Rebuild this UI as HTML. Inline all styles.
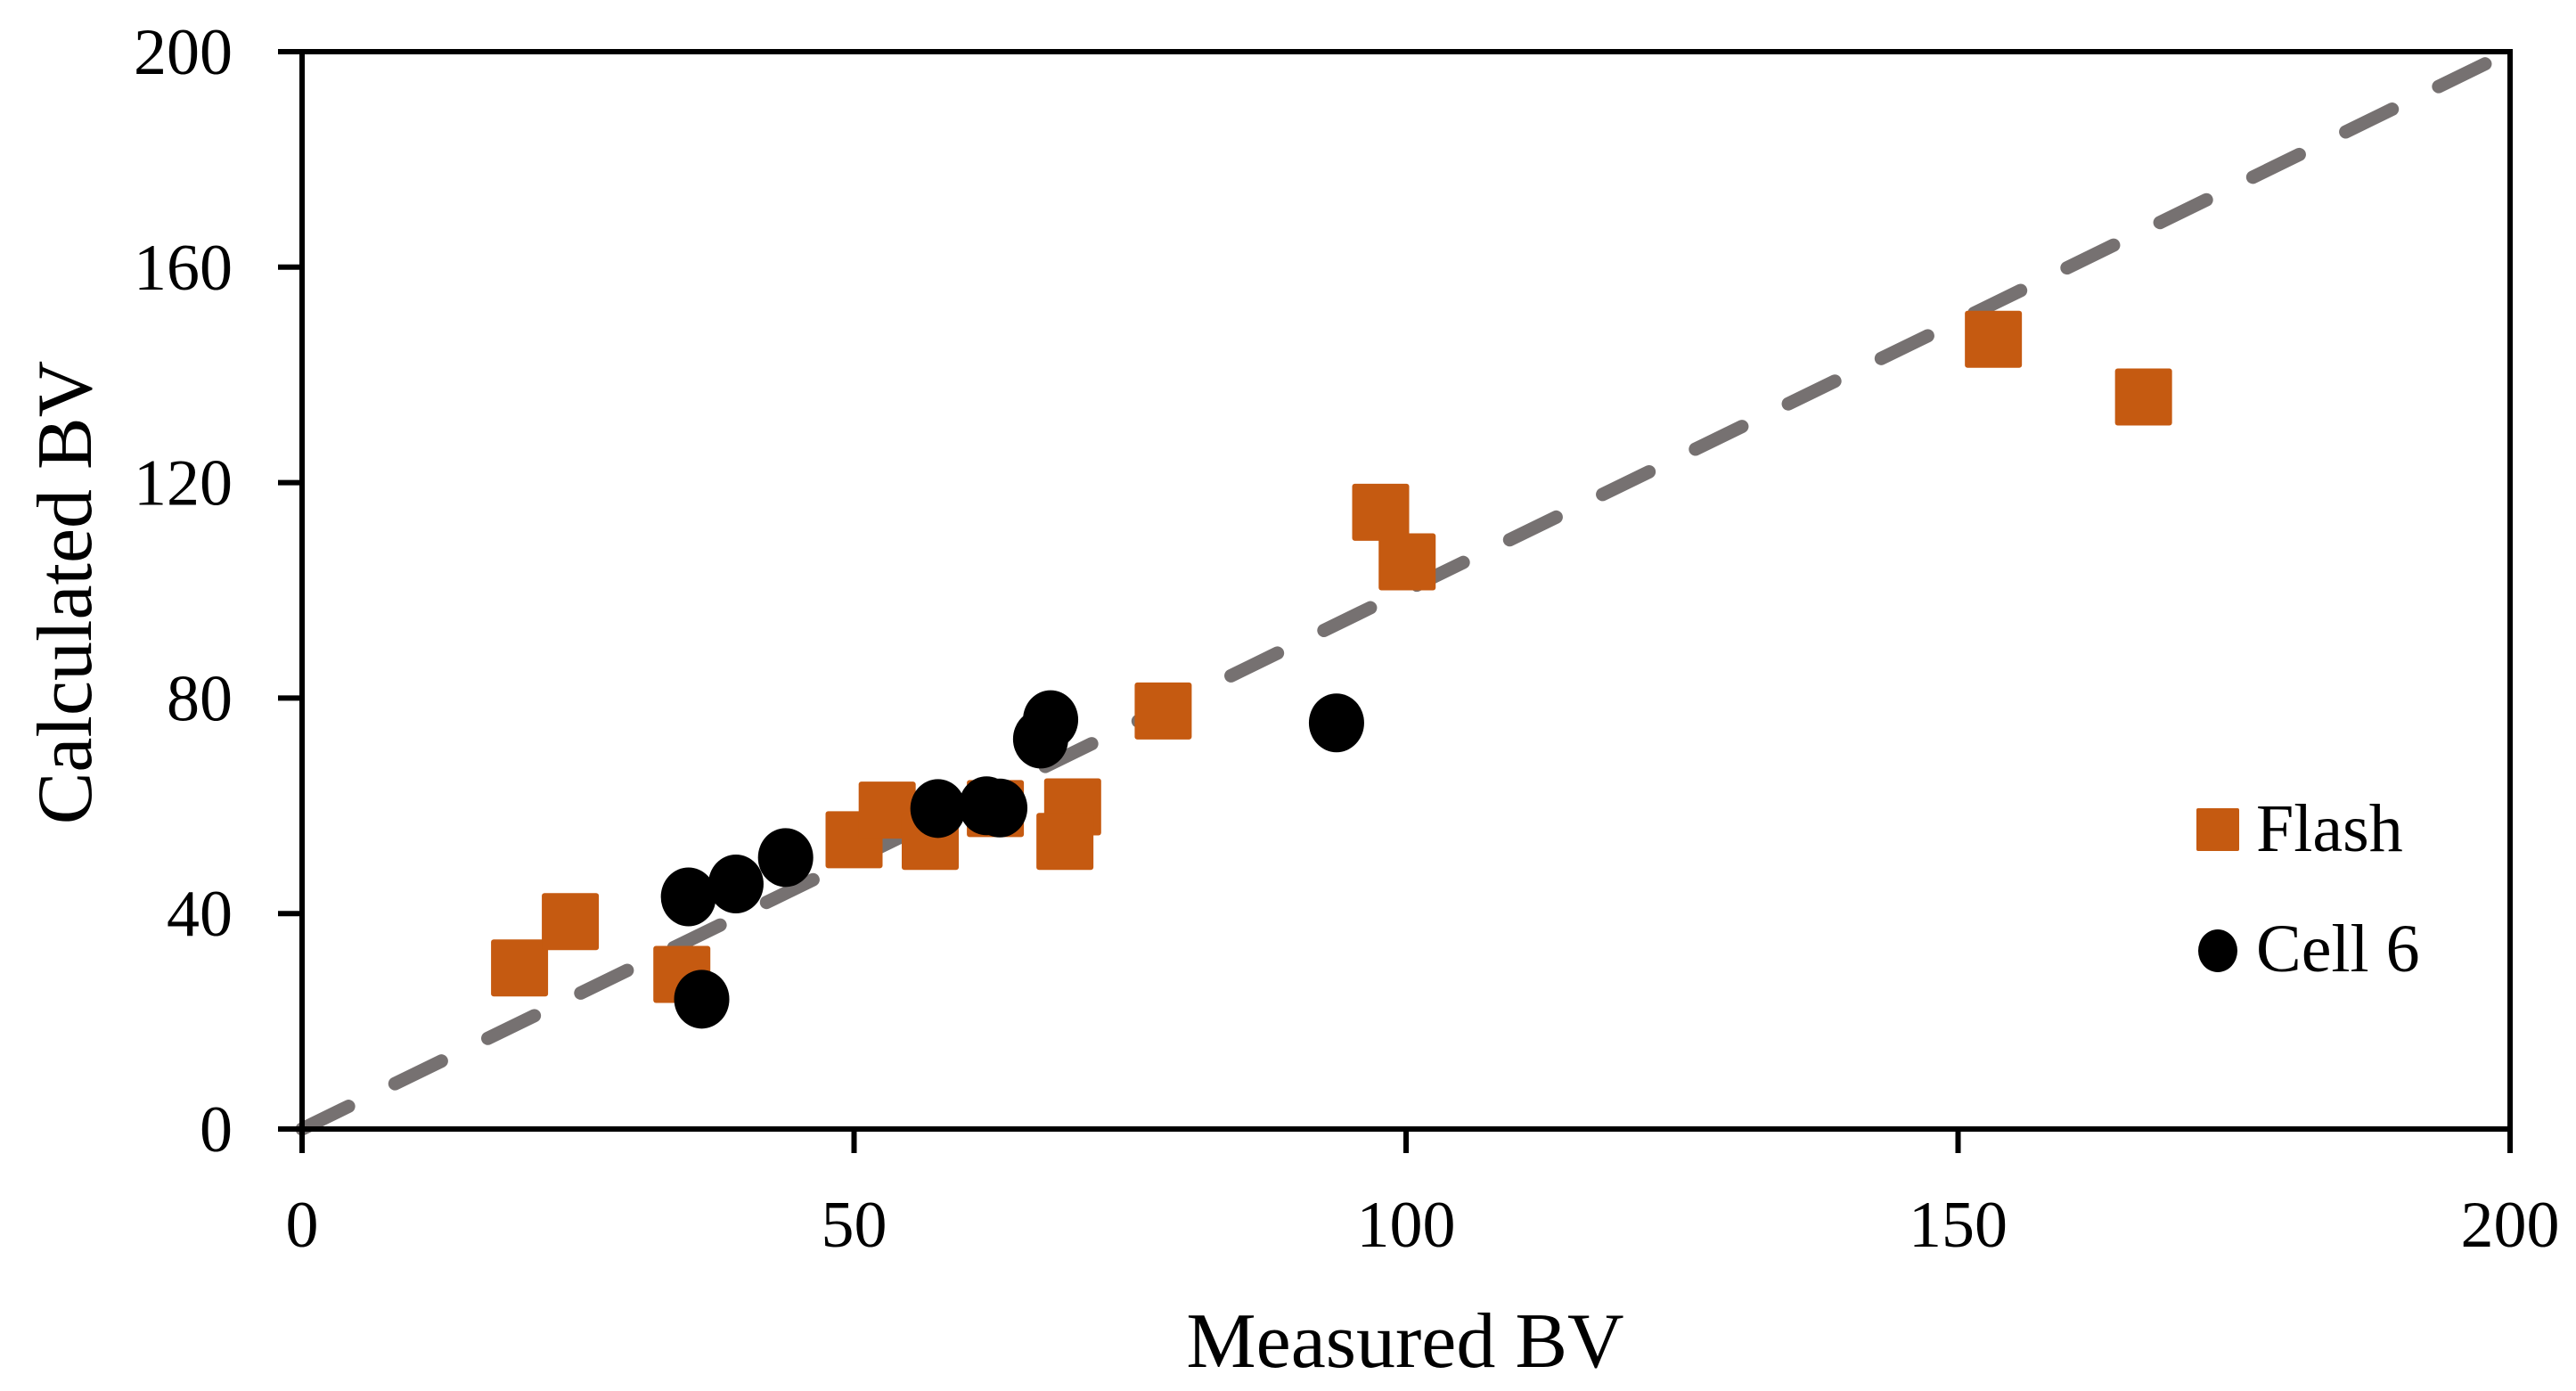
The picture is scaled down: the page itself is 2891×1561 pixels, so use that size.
<!DOCTYPE html>
<html><head><meta charset="utf-8"><style>
html,body{margin:0;padding:0;background:#fff;}
svg{display:block;}
text{font-family:"Liberation Serif",serif;fill:#000;}
</style></head><body>
<svg id="chart" width="2891" height="1561" viewBox="0 0 2891 1561" xmlns="http://www.w3.org/2000/svg">
<g id="g-line"></g>
<g id="g-flash"></g>
<g id="g-cell"></g>
<g id="g-axes"></g>
<text x="1577" y="1534" font-size="88" text-anchor="middle">Measured BV</text>
<text transform="translate(102,665) rotate(-90)" font-size="88" text-anchor="middle">Calculated BV</text>
<g>
<rect x="2465" y="907" width="48" height="48" fill="#C55A11" rx="2"/>
<text x="2532" y="955" font-size="76">Flash</text>
<ellipse cx="2489" cy="1067" rx="22" ry="24" fill="#000"/>
<text x="2532" y="1090" font-size="76">Cell 6</text>
</g>
</svg>
<script>
const xTicks = [0, 50, 100, 150, 200];
const yTicks = [0, 40, 80, 120, 160, 200];
const flashX = [19.7, 24.3, 34.4, 50.0, 53.0, 56.9, 62.8, 69.8, 69.1, 78.0, 97.7, 100.1, 153.2, 166.8];
const flashY = [29.9, 38.5, 28.7, 53.7, 59.2, 53.4, 59.5, 59.8, 53.4, 77.6, 114.5, 105.3, 146.6, 135.9];
const cellX = [35.0, 36.2, 39.3, 43.8, 57.6, 62.0, 63.2, 66.9, 67.8, 93.7];
const cellY = [43.1, 24.1, 45.5, 50.4, 59.5, 60.0, 59.6, 72.4, 76.0, 75.4];
const lineX = [0, 200];
const lineY = [0, 200];

const L = 339, R = 2817, T = 58, B = 1267;
const xMax = 200, yMax = 200;
function sx(v){ return L + (R - L) * v / xMax; }
function sy(v){ return B - (B - T) * v / yMax; }
const NS = "http://www.w3.org/2000/svg";
function mk(tag, attrs, parent){
  const e = document.createElementNS(NS, tag);
  for (const k in attrs) e.setAttribute(k, attrs[k]);
  parent.appendChild(e);
  return e;
}

const gLine = document.getElementById('g-line');
const ln = mk('line', {x1: sx(lineX[0]), y1: sy(lineY[0]), x2: sx(lineX[1]), y2: sy(lineY[1]), stroke: '#767171', 'stroke-width': 15, 'stroke-dasharray': '58 58', 'stroke-linecap': 'round'}, gLine);



const gF = document.getElementById('g-flash');
const S = 64;
for (let i = 0; i < flashX.length; i++){
  const r = mk('rect', {x: sx(flashX[i]) - S/2, y: sy(flashY[i]) - S/2, width: S, height: S, rx: 3, fill: '#C55A11'}, gF);
  
  
}
const gC = document.getElementById('g-cell');
for (let i = 0; i < cellX.length; i++){
  const c = mk('ellipse', {cx: sx(cellX[i]), cy: sy(cellY[i]), rx: 31, ry: 33, fill: '#000'}, gC);
  
  
}

const gA = document.getElementById('g-axes');
const frame = mk('rect', {x: L, y: T, width: R - L, height: B - T, fill: 'none', stroke: '#000', 'stroke-width': 6}, gA);


for (const v of xTicks){
  const t = mk('line', {x1: sx(v), y1: B, x2: sx(v), y2: B + 27, stroke: '#000', 'stroke-width': 6}, gA);
  
  
  const lb = mk('text', {x: sx(v), y: 1399, 'font-size': 74, 'text-anchor': 'middle'}, gA);
  lb.textContent = v;
  
  
}
for (const v of yTicks){
  const t = mk('line', {x1: L - 27, y1: sy(v), x2: L, y2: sy(v), stroke: '#000', 'stroke-width': 6}, gA);
  
  
  const lb = mk('text', {x: 261, y: sy(v) + 25, 'font-size': 74, 'text-anchor': 'end'}, gA);
  lb.textContent = v;
  
  
}
</script>
</body></html>
